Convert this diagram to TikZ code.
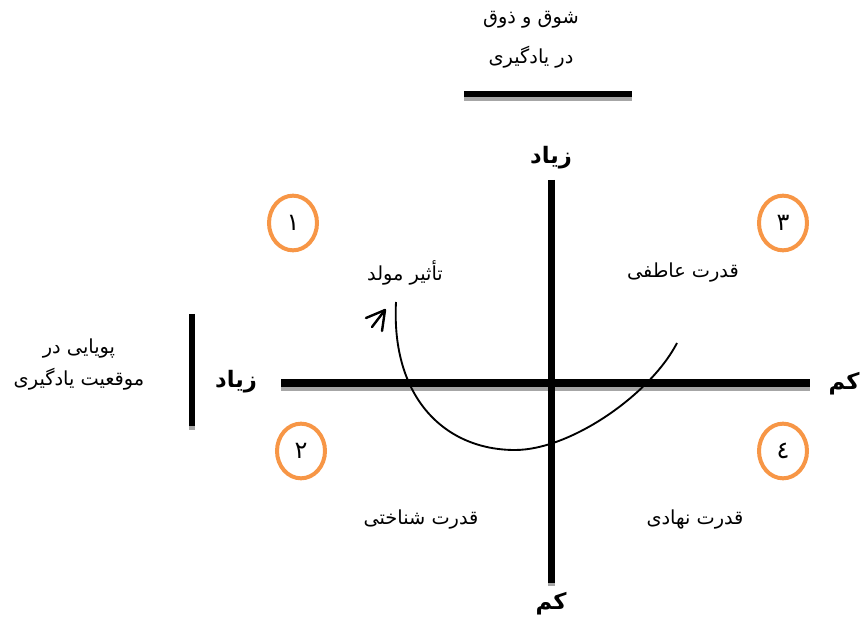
\documentclass[tikz,border=0pt]{standalone}
\usepackage{fontspec}
\usetikzlibrary{arrows.meta,shapes.geometric}
\TeXXeTstate=1
\newfontfamily\arabicfont[Script=Arabic]{DejaVu Sans}
\definecolor{numorange}{HTML}{F79646}
\definecolor{shadowgray}{gray}{0.65}

\begin{document}
\begin{tikzpicture}[x=0.75pt, y=-0.75pt,
    txt/.style={font=\arabicfont\fontsize{14.5}{17}\selectfont, inner sep=0pt},
    axislabel/.style={font=\arabicfont\bfseries\fontsize{17}{20}\selectfont, inner sep=0pt},
    numcircle/.style={ellipse, draw=numorange, line width=3pt, minimum width=36pt, minimum height=41pt, inner sep=0pt, font=\arabicfont\fontsize{18}{20}\selectfont},
    shadowline/.style={shadowgray, line width=#1},
    barline/.style={black, line width=#1}]
    \useasboundingbox (0,0) rectangle (861,627);
    % top heading and bar
    \node[txt] (headA) at (531,20) {\beginR شوق و ذوق\endR};
    \node[txt] (headB) at (531,57) {\beginR در یادگیری\endR};
    \draw[shadowline=4.5pt] (464,98) -- (632,98);
    \draw[barline=4.5pt] (464,94) -- (632,94);
    % left heading and bar
    \node[txt] (sideA) at (79,349) {\beginR پویایی در\endR};
    \node[txt] (sideB) at (79,379) {\beginR موقعیت یادگیری\endR};
    \draw[shadowline=4.5pt] (192,318) -- (192,430);
    \draw[barline=4.5pt] (192,314) -- (192,426);
    % axes
    \draw[shadowline=6pt] (281,387) -- (810,387);
    \draw[shadowline=5.25pt] (551,184) -- (551,586);
    \draw[barline=6pt] (281,383) -- (810,383);
    \draw[barline=5.25pt] (551,180) -- (551,583);
    \node[axislabel] (upHigh) at (551,158) {\beginR زیاد\endR};
    \node[axislabel] (downLow) at (551,604) {\beginR کم\endR};
    \node[axislabel] (leftHigh) at (236,382) {\beginR زیاد\endR};
    \node[axislabel] (rightLow) at (844,384) {\beginR کم\endR};
    % quarter numbers
    \node[numcircle] (q1) at (293,223) {١};
    \node[numcircle] (q2) at (301,451) {٢};
    \node[numcircle] (q3) at (783,223) {٣};
    \node[numcircle] (q4) at (783,451) {٤};
    % quarter texts
    \node[txt] (mold) at (405,273) {\beginR تأثیر مولد\endR};
    \node[txt] (atefi) at (683,273) {\beginR قدرت عاطفی\endR};
    \node[txt] (shenakhti) at (421,520) {\beginR قدرت شناختی\endR};
    \node[txt] (nahadi) at (695,520) {\beginR قدرت نهادی\endR};
    % turning curve
    \draw[line width=1.4pt] (677,343) .. controls (650,395) and (570,450) .. (515,450)
        .. controls (445,450) and (391,398) .. (396,302);
    \draw[line width=1.8pt, line cap=round, line join=round] (366,318) -- (385,310) -- (382,331);
    \draw[line width=1.8pt, line cap=round] (372,327) -- (385,310);
\end{tikzpicture}
\end{document}
